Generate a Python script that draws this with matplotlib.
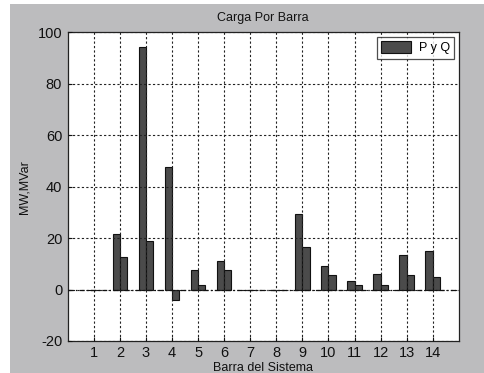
import matplotlib
matplotlib.use("Agg")
import matplotlib.pyplot as plt
import numpy as np
from matplotlib.patches import Rectangle

plt.rcParams['font.family'] = ['Liberation Sans', 'DejaVu Sans']
plt.rcParams['axes.unicode_minus'] = False

buses = list(range(1, 15))
p_load = [0, 21.7, 94.2, 47.8, 7.6, 11.2, 0, 0, 29.5, 9.0, 3.5, 6.1, 13.5, 14.9]
q_load = [0, 12.7, 19.0, -3.9, 1.6, 7.5, 0, 0, 16.6, 5.8, 1.8, 1.6, 5.8, 5.0]
yticks = [-20, 0, 20, 40, 60, 80, 100]

fig = plt.figure(figsize=(4.84, 3.73), dpi=100)
fig.patch.set_facecolor('white')
fig.patches.append(Rectangle((10/484, 0), 1 - 10/484, 1 - 4/373, transform=fig.transFigure,
                             facecolor='#bcbcbe', edgecolor='none', zorder=-10))

ax = fig.add_axes([0.140, 0.086, 0.808, 0.827])
ax.set_facecolor('white')

x = np.array(buses, dtype=float)
w = 0.28
bar_color = '#4b4b4b'
ax.bar(x - w/2, p_load, width=w, color=bar_color, edgecolor='#111111', linewidth=0.8,
       label='P y Q', zorder=2)
ax.bar(x + w/2, q_load, width=w, color=bar_color, edgecolor='#111111', linewidth=0.8, zorder=2)

ax.axhline(0, color='#111111', linewidth=0.9, linestyle=(0, (4, 2, 1, 2)), zorder=3)

ax.set_xlim(0, 15)
ax.set_ylim(-20, 100)
ax.set_xticks(buses)
ax.set_xticklabels([str(b) for b in buses])
ax.set_yticks(yticks)

ax.grid(True, color='#222222', linestyle=(0, (2, 2)), linewidth=0.8)
ax.set_axisbelow(False)
for gl in ax.get_xgridlines() + ax.get_ygridlines():
    gl.set_zorder(3)

ax.tick_params(direction='in', length=3, labelsize=10.5, colors='#111111', pad=4)
for sp in ax.spines.values():
    sp.set_color('#222222')
    sp.set_linewidth(0.9)

ax.set_title('Carga Por Barra', fontsize=9, color='#111111', pad=8)
ax.set_xlabel('Barra del Sistema', fontsize=9, color='#111111', labelpad=1)
ax.set_ylabel('MW,MVar', fontsize=9, color='#111111', labelpad=5)

leg = ax.legend(loc='upper right', fontsize=9, frameon=True, fancybox=False,
                edgecolor='#222222', handlelength=2.4, handleheight=1.0,
                borderpad=0.35, handletextpad=0.6, borderaxespad=0.0,
                bbox_to_anchor=(0.988, 0.985))
leg.get_frame().set_linewidth(0.9)
leg.set_zorder(5)

fig.savefig('out.png', dpi=100, facecolor=fig.get_facecolor())
